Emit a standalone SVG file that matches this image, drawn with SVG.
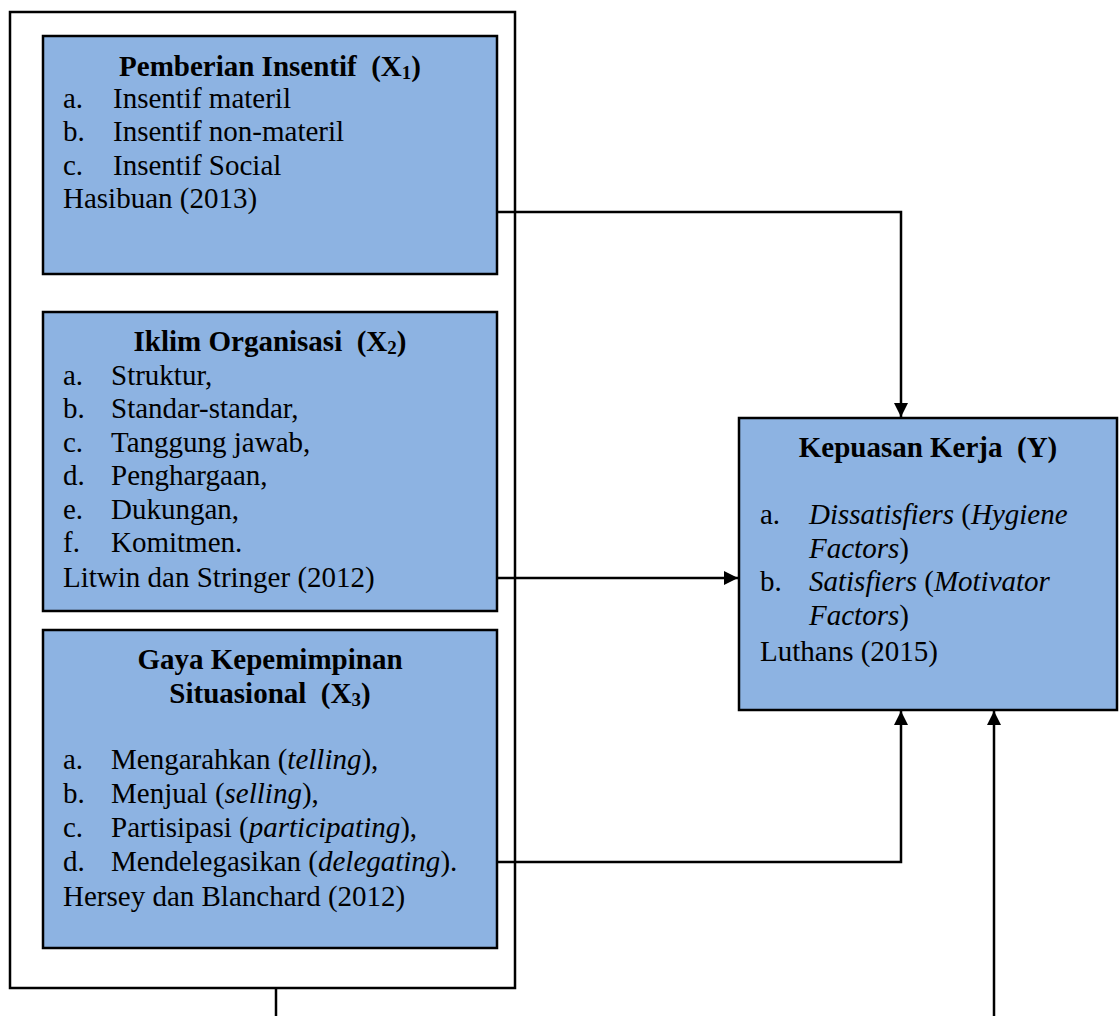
<svg xmlns="http://www.w3.org/2000/svg" width="1120" height="1016" viewBox="0 0 1120 1016">
<style>
text{font-family:"Liberation Serif","Times New Roman",serif;font-size:29px;fill:#000;white-space:pre}
.t{font-weight:bold;text-anchor:middle}
.box{fill:#8DB3E2;stroke:#000;stroke-width:2.5}
.frame{fill:none;stroke:#000;stroke-width:2.5}
.c{fill:none;stroke:#000;stroke-width:2.5}
.i{font-style:italic}
.s{font-size:19px}
</style>
<defs>
<marker id="ah" viewBox="0 0 10 10" refX="10" refY="5" markerWidth="5.6" markerHeight="5.6" orient="auto" markerUnits="strokeWidth">
<path d="M0,0 L10,5 L0,10 z" fill="#000"/>
</marker>
</defs>
<rect class="frame" x="10" y="12" width="505" height="976"/>
<g id="connectors">
<polyline class="c" points="497,212 901,212 901,417" marker-end="url(#ah)"/>
<line class="c" x1="497" y1="578" x2="738" y2="578" marker-end="url(#ah)"/>
<polyline class="c" points="497,862 901,862 901,711" marker-end="url(#ah)"/>
<line class="c" x1="994" y1="1016" x2="994" y2="711" marker-end="url(#ah)"/>
<line class="c" x1="276" y1="988" x2="276" y2="1016"/>
</g>
<g id="x1">
<rect class="box" x="43" y="36" width="454" height="238"/>
<text class="t" x="270" y="76" xml:space="preserve">Pemberian Insentif  (X<tspan class="s" dy="3">1</tspan><tspan dy="-3">)</tspan></text>
<text x="63" y="108">a.</text><text x="113" y="108">Insentif materil</text>
<text x="63" y="141">b.</text><text x="113" y="141">Insentif non-materil</text>
<text x="63" y="175">c.</text><text x="113" y="175">Insentif Social</text>
<text x="63" y="208">Hasibuan (2013)</text>
</g>
<g id="x2">
<rect class="box" x="43" y="312" width="454" height="299"/>
<text class="t" x="270" y="351" xml:space="preserve">Iklim Organisasi  (X<tspan class="s" dy="3">2</tspan><tspan dy="-3">)</tspan></text>
<text x="63" y="385">a.</text><text x="111" y="385">Struktur,</text>
<text x="63" y="418">b.</text><text x="111" y="418">Standar-standar,</text>
<text x="63" y="452">c.</text><text x="111" y="452">Tanggung jawab,</text>
<text x="63" y="485">d.</text><text x="111" y="485">Penghargaan,</text>
<text x="63" y="519">e.</text><text x="111" y="519">Dukungan,</text>
<text x="63" y="552">f.</text><text x="111" y="552">Komitmen.</text>
<text x="63" y="587">Litwin dan Stringer (2012)</text>
</g>
<g id="x3">
<rect class="box" x="43" y="630" width="454" height="318"/>
<text class="t" x="270" y="669">Gaya Kepemimpinan</text>
<text class="t" x="270" y="703" xml:space="preserve">Situasional  (X<tspan class="s" dy="3">3</tspan><tspan dy="-3">)</tspan></text>
<text x="63" y="769">a.</text><text x="111" y="769">Mengarahkan (<tspan class="i">telling</tspan>),</text>
<text x="63" y="803">b.</text><text x="111" y="803">Menjual (<tspan class="i">selling</tspan>),</text>
<text x="63" y="837">c.</text><text x="111" y="837">Partisipasi (<tspan class="i">participating</tspan>),</text>
<text x="63" y="871">d.</text><text x="111" y="871">Mendelegasikan (<tspan class="i">delegating</tspan>).</text>
<text x="63" y="906">Hersey dan Blanchard (2012)</text>
</g>
<g id="y">
<rect class="box" x="739" y="418" width="378" height="292"/>
<text class="t" x="928" y="457" xml:space="preserve">Kepuasan Kerja  (Y)</text>
<text x="760" y="524">a.</text><text x="809" y="524"><tspan class="i">Dissatisfiers</tspan> (<tspan class="i">Hygiene</tspan></text>
<text x="809" y="558"><tspan class="i">Factors</tspan>)</text>
<text x="760" y="591">b.</text><text x="809" y="591"><tspan class="i">Satisfiers</tspan> (<tspan class="i">Motivator</tspan></text>
<text x="809" y="625"><tspan class="i">Factors</tspan>)</text>
<text x="760" y="661">Luthans (2015)</text>
</g>
</svg>
